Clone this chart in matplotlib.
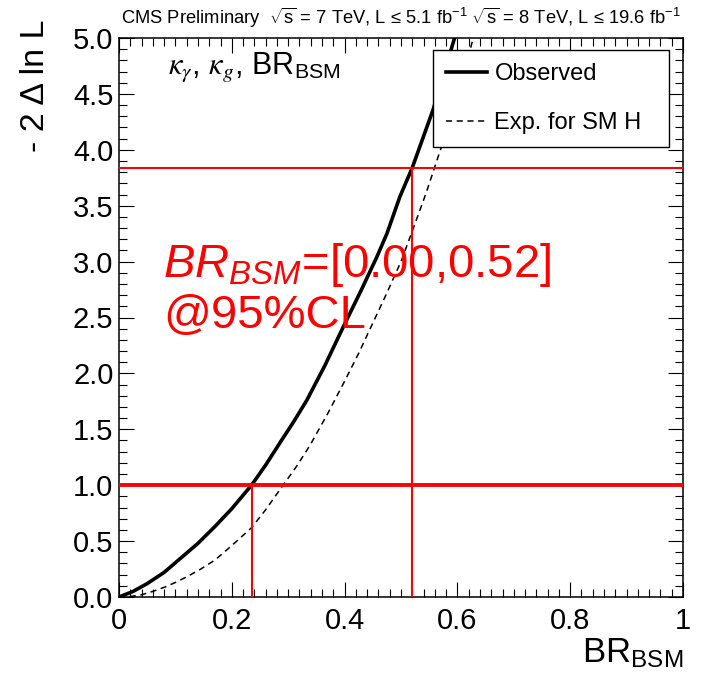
import matplotlib
matplotlib.use("Agg")
import matplotlib.pyplot as plt
from matplotlib.ticker import MultipleLocator

plt.rcParams['font.family'] = ['Liberation Sans', 'DejaVu Sans']
plt.rcParams['mathtext.fontset'] = 'custom'
plt.rcParams['mathtext.rm'] = 'Liberation Sans'
plt.rcParams['mathtext.it'] = 'Liberation Sans:italic'
plt.rcParams['mathtext.bf'] = 'Liberation Sans:bold'
plt.rcParams['mathtext.sf'] = 'Liberation Sans'

# ---- data ----
obs_x = [0.0, 0.025, 0.05, 0.08, 0.11, 0.14, 0.17, 0.20, 0.235, 0.26, 0.288, 0.31, 0.333,
         0.365, 0.398, 0.43, 0.457, 0.475, 0.498, 0.52, 0.557, 0.595, 0.62]
obs_y = [0.0, 0.05, 0.12, 0.22, 0.35, 0.48, 0.63, 0.79, 1.0, 1.18, 1.40, 1.57, 1.76,
         2.07, 2.42, 2.75, 3.04, 3.25, 3.58, 3.84, 4.36, 5.0, 5.4]

exp_x = [0.0, 0.02, 0.04, 0.06, 0.082, 0.10, 0.12, 0.145, 0.17, 0.20, 0.235, 0.26, 0.291,
         0.315, 0.339, 0.37, 0.40, 0.425, 0.45, 0.475, 0.50, 0.522, 0.545, 0.566, 0.60,
         0.628, 0.65]
exp_y = [0.0, 0.005, 0.02, 0.05, 0.09, 0.13, 0.18, 0.25, 0.33, 0.46, 0.62, 0.78, 1.0,
         1.17, 1.36, 1.64, 1.93, 2.18, 2.45, 2.72, 3.0, 3.3, 3.62, 3.94, 4.45,
         5.0, 5.3]

cl68_level = 1.0
cl95_level = 3.84
cl68_upper = 0.235
cl95_upper = 0.52

x_ticks = [0, 0.2, 0.4, 0.6, 0.8, 1.0]
x_ticklabels = ["0", "0.2", "0.4", "0.6", "0.8", "1"]
y_ticks = [0.0, 0.5, 1.0, 1.5, 2.0, 2.5, 3.0, 3.5, 4.0, 4.5, 5.0]
y_ticklabels = ["0.0", "0.5", "1.0", "1.5", "2.0", "2.5", "3.0", "3.5", "4.0", "4.5", "5.0"]

W, H = 703, 676
fig = plt.figure(figsize=(W / 100, H / 100), dpi=100)
ax = fig.add_axes([119 / W, (H - 597) / H, 564 / W, 559 / H])

ax.plot(obs_x, obs_y, color='black', lw=2.6, solid_joinstyle='round', label='Observed', zorder=3)
ax.plot(exp_x, exp_y, color='black', lw=1.1, dashes=(4, 3), label='Exp. for SM H', zorder=3)

# red CL lines
ax.axhline(cl68_level, color='red', lw=2.8, zorder=4)
ax.axhline(cl95_level, color='red', lw=1.5, zorder=4)
ax.plot([cl68_upper, cl68_upper], [0, cl68_level], color='red', lw=1.5, zorder=4)
ax.plot([cl95_upper, cl95_upper], [0, cl95_level], color='red', lw=1.5, zorder=4)

ax.set_xlim(0, 1)
ax.set_ylim(0, 5)
ax.set_xticks(x_ticks)
ax.set_xticklabels(x_ticklabels)
ax.set_yticks(y_ticks)
ax.set_yticklabels(y_ticklabels)
ax.xaxis.set_minor_locator(MultipleLocator(0.02))
ax.yaxis.set_minor_locator(MultipleLocator(0.1))
ax.tick_params(which='both', direction='in', top=True, right=True, width=0.8, labelsize=21)
ax.tick_params(which='major', length=11)
ax.tick_params(which='minor', length=5.5)
ax.tick_params(axis='x', pad=7)
ax.tick_params(axis='y', pad=4)
for s in ax.spines.values():
    s.set_linewidth(1.1)

leg = ax.legend(loc='upper left', bbox_to_anchor=(433 / W, (H - 50) / H, (669 - 433) / W, 0),
                bbox_transform=fig.transFigure, mode='expand', fontsize=17,
                fancybox=False, edgecolor='black', framealpha=1,
                handlelength=1.75, handletextpad=0.3, labelspacing=1.15, borderpad=0.55,
                borderaxespad=0)
leg.get_frame().set_linewidth(1.0)
leg.set_zorder(5)

# texts
fig.text(121 / W, (H - 18) / H,
         r"CMS Preliminary  $\sqrt{\mathregular{s}}$ = 7 TeV, L ≤ 5.1 fb$^{\mathregular{-1}}$ $\sqrt{\mathregular{s}}$ = 8 TeV, L ≤ 19.6 fb$^{\mathregular{-1}}$",
         ha='left', va='center', fontsize=13.2)
fig.text(36 / W, (H - 20) / H, "- 2 Δ ln L", rotation=90, ha='center', va='top', fontsize=24.5)
fig.text(683 / W, (H - 662) / H, r"BR$_{\mathregular{BSM}}$", ha='right', va='baseline', fontsize=25)

ax.text(0.087, 4.67, r"$\kappa_{\gamma}$, $\kappa_{g}$, BR$_{\mathregular{BSM}}$",
        math_fontfamily='stix', fontsize=22, ha='left', va='baseline')
ax.text(0.078, 2.86, r"$\mathit{BR}_{\mathit{BSM}}$=[0.00,0.52]", color='red', fontsize=34,
        ha='left', va='baseline', zorder=6)
ax.text(0.078, 2.41, "@95%CL", color='red', fontsize=34, ha='left', va='baseline', zorder=6)

fig.savefig("out.png", dpi=100)
